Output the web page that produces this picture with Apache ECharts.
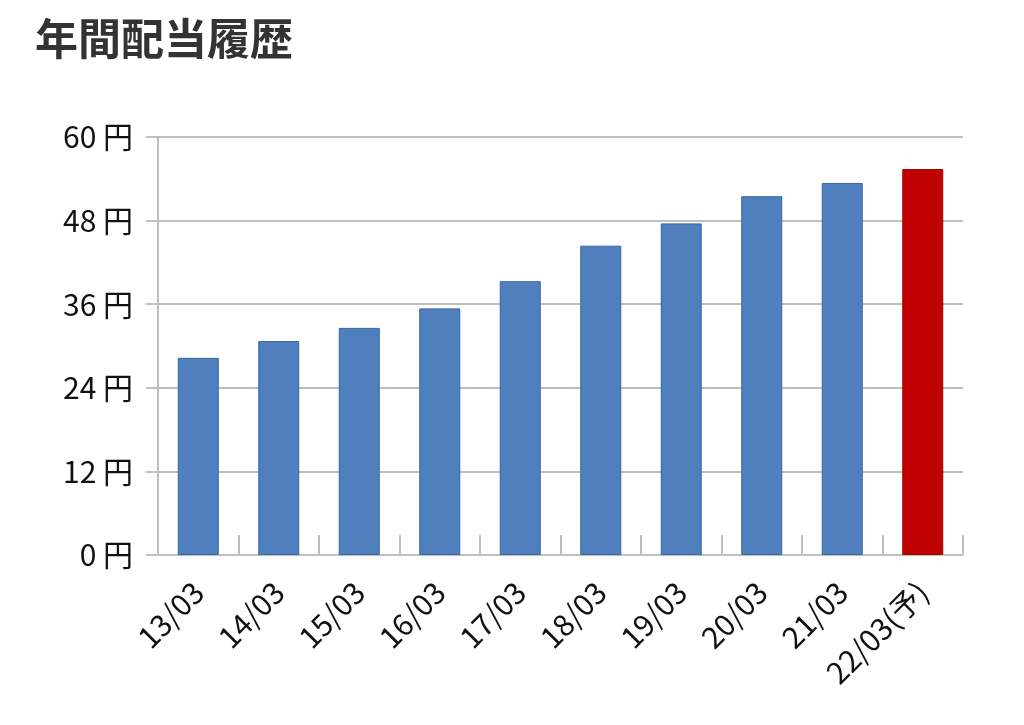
<!DOCTYPE html>
<html>
<head>
    <meta charset="utf-8">
    <title>年間配当履歴</title>
    <script src="https://cdn.jsdelivr.net/npm/echarts@6/dist/echarts.min.js"></script>
    <style>
        html, body { margin: 0; padding: 0; background: #fff; }
    </style>
</head>
<body>
    <div id="main" style="width: 1024px;height:725px;"></div>
    <script type="text/javascript">
        // 決算期
        var categories = ['13/03', '14/03', '15/03', '16/03', '17/03', '18/03', '19/03', '20/03', '21/03', '22/03(予)'];
        // 年間配当（円）
        var dividends = [28.3, 30.7, 32.6, 35.4, 39.3, 44.4, 47.6, 51.5, 53.4, 55.4];
        // 予想値かどうか
        var isForecast = [false, false, false, false, false, false, false, false, false, true];

        var FONT = '"Noto Sans CJK JP", "Noto Sans", sans-serif';
        var GRAY = '#bfbfbf';

        var myChart = echarts.init(document.getElementById('main'));

        var barData = dividends.map(function (v, i) {
            return {
                value: v,
                itemStyle: isForecast[i]
                    ? { color: '#c00000', borderColor: '#a80000', borderWidth: 1 }
                    : { color: '#4f80bd', borderColor: '#3567a6', borderWidth: 1 }
            };
        });

        var option = {
            backgroundColor: '#fff',
            animation: false,
            title: {
                text: '年間配当履歴',
                left: 30,
                top: 12,
                textStyle: {
                    fontFamily: FONT,
                    fontSize: 43,
                    fontWeight: 'bold',
                    color: '#333'
                }
            },
            grid: {
                left: 158,
                right: 61,
                top: 137,
                bottom: 170
            },
            xAxis: {
                type: 'category',
                data: categories,
                axisLine: { lineStyle: { color: GRAY, width: 2 } },
                axisTick: {
                    show: true,
                    inside: true,
                    alignWithLabel: false,
                    interval: 0,
                    length: 20,
                    lineStyle: { color: GRAY, width: 2 }
                },
                axisLabel: {
                    rotate: 45,
                    margin: 32,
                    interval: 0,
                    fontFamily: FONT,
                    fontSize: 30,
                    color: '#111'
                }
            },
            yAxis: {
                type: 'value',
                min: 0,
                max: 60,
                interval: 12,
                axisLine: { show: true, lineStyle: { color: GRAY, width: 2 } },
                axisTick: { show: true, length: 12, lineStyle: { color: GRAY, width: 2 } },
                splitLine: { lineStyle: { color: GRAY, width: 2 } },
                axisLabel: {
                    formatter: '{value} 円',
                    margin: 25,
                    fontFamily: FONT,
                    fontSize: 30,
                    color: '#111'
                }
            },
            series: [{
                name: '年間配当',
                type: 'bar',
                barWidth: 41,
                data: barData
            }]
        };

        myChart.setOption(option);
    </script>
</body>
</html>
